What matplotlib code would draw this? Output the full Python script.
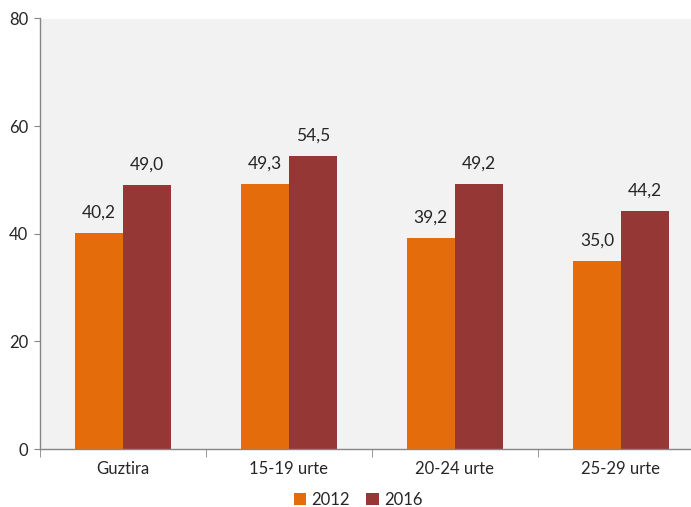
import numpy as np
import matplotlib.pyplot as plt

plt.rcParams['font.family'] = ['Lato', 'DejaVu Sans']

# 데이터
categories = ['Guztira', '15-19 urte', '20-24 urte', '25-29 urte']
years = ['2012', '2016']
values_2012 = [40.2, 49.3, 39.2, 35.0]
values_2016 = [49.0, 54.5, 49.2, 44.2]
y_ticks = [0, 20, 40, 60, 80]

colors = ['#E46C0A', '#953735']
text_color = '#262626'
axis_color = '#868686'

fig = plt.figure(figsize=(6.91, 5.07), dpi=100)
ax = fig.add_axes([39.5 / 691, 1 - 449 / 507, (704 - 39.5) / 691, (449 - 18.5) / 507])
ax.set_facecolor('#F2F2F2')

x = np.arange(len(categories))
w = 0.289
b1 = ax.bar(x - w / 2, values_2012, w, color=colors[0], label=years[0])
b2 = ax.bar(x + w / 2, values_2016, w, color=colors[1], label=years[1])

for bars in (b1, b2):
    ax.bar_label(bars, labels=[f'{v:.1f}'.replace('.', ',') for v in bars.datavalues],
                 padding=9, fontsize=12.5, color=text_color)

ax.set_xlim(-0.5, len(categories) - 0.5)
ax.set_ylim(0, 80)
ax.set_yticks(y_ticks)

ax.set_xticks(x)
ax.set_xticklabels(categories, fontsize=12, color=text_color)
ax.set_xticks(np.arange(-0.5, len(categories) - 0.5), minor=True)
ax.tick_params(axis='x', which='major', length=0, pad=9)
ax.tick_params(axis='x', which='minor', length=6, color=axis_color, direction='out')
ax.tick_params(axis='y', length=4, color=axis_color, labelsize=12, labelcolor=text_color, pad=4)

for s in ['top', 'right']:
    ax.spines[s].set_visible(False)
for s in ['left', 'bottom']:
    ax.spines[s].set_color(axis_color)
    ax.spines[s].set_linewidth(1.0)

fig.legend(loc='center', bbox_to_anchor=(358 / 691, 1 - 500 / 507), ncol=2, frameon=False,
           fontsize=12, handlelength=0.75, handleheight=0.75, handletextpad=0.3,
           columnspacing=1.0, labelcolor=text_color, borderpad=0)

fig.savefig('out.png', dpi=100)
